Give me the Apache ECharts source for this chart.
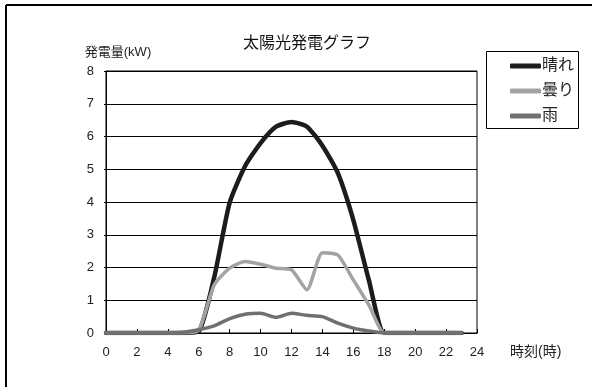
<!DOCTYPE html>
<html><head><meta charset="utf-8">
<script src="https://cdn.jsdelivr.net/npm/echarts@6/dist/echarts.min.js"></script>
<style>html,body{margin:0;padding:0;background:#fff}#c{width:592px;height:387px}</style>
</head><body><div id="c"></div>
<script>
const hours = [0,1,2,3,4,5,6,7,8,9,10,11,12,13,14,15,16,17,18,19,20,21,22,23];
const sunny = [0,0,0,0,0,0,0.05,1.7,3.98,5.1,5.8,6.3,6.44,6.3,5.72,4.88,3.45,1.62,0,0,0,0,0,0];
const cloudy = [0,0,0,0,0,0,0.08,1.47,1.98,2.18,2.1,1.98,1.93,1.32,2.45,2.38,1.62,0.86,0,0,0,0,0,0];
const rain = [0,0,0,0,0,0.02,0.1,0.22,0.44,0.57,0.6,0.48,0.6,0.54,0.5,0.3,0.15,0.06,0,0,0,0,0,0];
const seriesNames = ['晴れ','曇り','雨'];
const xTicks = {min:0,max:24,interval:2};
const yTicks = {min:0,max:8,interval:1};
const FONT = '"Liberation Sans","Noto Sans CJK JP",sans-serif';
const pairs = a => hours.map((h,i)=>[h,a[i]]);
const chart = echarts.init(document.getElementById('c'));
chart.setOption({
  animation:false,
  backgroundColor:'#fff',
  textStyle:{fontFamily:FONT},
  title:{text:'太陽光発電グラフ',left:302,top:31,textAlign:'center',
    textStyle:{fontSize:16,fontWeight:'normal',color:'#111',fontFamily:FONT}},
  grid:{left:106,right:115,top:71,bottom:54,show:true,borderColor:'#000',borderWidth:1,containLabel:false},
  xAxis:{type:'value',min:xTicks.min,max:xTicks.max,interval:xTicks.interval,
    name:'時刻(時)',nameLocation:'end',nameGap:33,
    nameTextStyle:{fontSize:14,color:'#222',fontFamily:FONT,verticalAlign:'top',padding:[12,0,0,0]},
    axisLine:{lineStyle:{color:'#000',width:1}},
    axisTick:{inside:true,length:4,lineStyle:{color:'#000'}},
    axisLabel:{fontSize:13,color:'#222',margin:13,fontFamily:FONT},
    splitLine:{show:false}},
  yAxis:{type:'value',min:yTicks.min,max:yTicks.max,interval:yTicks.interval,
    name:'発電量(kW)',nameLocation:'end',nameGap:12,
    nameTextStyle:{fontSize:13,color:'#222',fontFamily:FONT,align:'center',padding:[0,0,0,24]},
    axisLine:{show:true,lineStyle:{color:'#000',width:1}},
    axisTick:{show:true,length:2,lineStyle:{color:'#000'}},
    axisLabel:{fontSize:13,color:'#222',margin:12,fontFamily:FONT},
    splitLine:{show:true,lineStyle:{color:'#000',width:1}}},
  legend:{orient:'vertical',left:505,top:53,itemWidth:31,itemHeight:5,itemGap:9,
    icon:'roundRect',
    textStyle:{fontSize:16,color:'#222',fontFamily:FONT,padding:[0,0,0,-4]},
    data:seriesNames},
  graphic:[
    {type:'rect',shape:{x:486.5,y:51.5,width:92,height:77},style:{fill:'none',stroke:'#000',lineWidth:1},z:-1},
    {type:'line',shape:{x1:6,y1:5,x2:592,y2:5},style:{stroke:'#000',lineWidth:2}},
    {type:'line',shape:{x1:6,y1:5,x2:6,y2:387},style:{stroke:'#000',lineWidth:2}}
  ],
  series:[
    {name:seriesNames[0],type:'line',data:pairs(sunny),showSymbol:false,smooth:0.2,
      itemStyle:{color:'#1c1c1c'},lineStyle:{color:'#1c1c1c',width:4.5,cap:'round'},z:2},
    {name:seriesNames[1],type:'line',data:pairs(cloudy),showSymbol:false,smooth:0.2,
      itemStyle:{color:'#a3a3a3'},lineStyle:{color:'#a3a3a3',width:3.5,cap:'round'},z:3},
    {name:seriesNames[2],type:'line',data:pairs(rain),showSymbol:false,smooth:0.2,
      itemStyle:{color:'#707070'},lineStyle:{color:'#707070',width:3.5,cap:'round'},z:4}
  ]
});
</script></body></html>
